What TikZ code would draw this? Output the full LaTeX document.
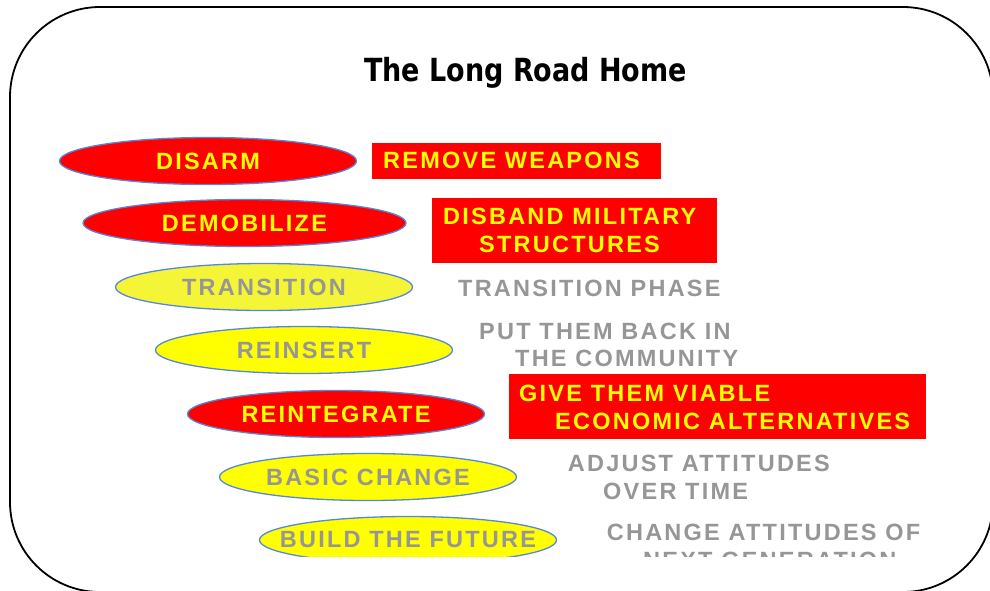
\documentclass[tikz,border=0pt]{standalone}
\usepackage{fontspec}
\setmainfont{Liberation Sans}
\newfontfamily\titlefont{DejaVu Sans}
\newfontfamily\bodyfont[LetterSpace=9.5]{Liberation Sans}
\usetikzlibrary{shapes.geometric}
\definecolor{pptred}{RGB}{255,0,0}
\definecolor{pptyellow}{RGB}{255,255,0}
\definecolor{paleyellow}{RGB}{245,245,55}
\definecolor{txtgray}{RGB}{150,150,150}
\definecolor{ovalblue}{RGB}{85,135,225}
\tikzset{
  oval/.style={ellipse, draw=ovalblue, line width=1.3pt, inner sep=0pt,
    minimum width=297pt, minimum height=47pt},
  redoval/.style={oval, fill=pptred},
  yeloval/.style={oval, fill=pptyellow},
  bodytxt/.style={inner sep=0pt, font=\bodyfont\bfseries\fontsize{23.5}{28}\selectfont},
  ovaltxt/.style={bodytxt, anchor=center},
  lbl/.style={bodytxt, anchor=west, text=txtgray},
  ylbl/.style={bodytxt, anchor=west, text=pptyellow},
  redbox/.style={rectangle, fill=pptred, inner sep=0pt, anchor=north west},
  frame/.style={draw=black, line width=1.8pt, rounded corners=90pt}
}
\begin{document}
\begin{tikzpicture}[x=1pt,y=-1pt]
\useasboundingbox (0,0) rectangle (990,590);
\clip (0,0) rectangle (990,590);
\draw[frame] (10,7) rectangle (993,592);

\node[font=\titlefont\bfseries\fontsize{27}{30}\selectfont, anchor=base, inner sep=0pt]
  (title) at (525.5,81.7) {\scalebox{1}[1.18]{The Long Road Home}};

\begin{scope}
\clip (0,0) rectangle (990,556);
% ovals
\node[redoval] (o1) at (208,161) {};
\node[ovaltxt, text=pptyellow] (t1) at (o1.center) {DISARM};
\node[redoval, minimum width=323pt] (o2) at (244.5,223) {};
\node[ovaltxt, text=pptyellow] (t2) at (o2.center) {DEMOBILIZE};
\node[yeloval, fill=paleyellow] (o3) at (264,287) {};
\node[ovaltxt, text=txtgray] (t3) at (o3.center) {TRANSITION};
\node[yeloval] (o4) at (304,350) {};
\node[ovaltxt, text=txtgray] (t4) at (o4.center) {REINSERT};
\node[redoval] (o5) at (336,414) {};
\node[ovaltxt, text=pptyellow] (t5) at (o5.center) {REINTEGRATE};
\node[yeloval] (o6) at (368,477) {};
\node[ovaltxt, text=txtgray] (t6) at (o6.center) {BASIC CHANGE};
\node[yeloval] (o7) at (408,540) {};
\node[ovaltxt, text=txtgray] (t7) at (o7.center) {BUILD THE FUTURE};

% right column
\node[redbox, minimum width=289.3pt, minimum height=36pt] (b1) at (371.7,142.3) {};
\node[ylbl] (r1) at (383,160.3) {REMOVE WEAPONS};

\node[redbox, minimum width=285pt, minimum height=64.7pt] (b2) at (431.7,198) {};
\node[ylbl] (r2a) at (443,216.8) {DISBAND MILITARY};
\node[ylbl] (r2b) at (479,244.3) {STRUCTURES};

\node[lbl] (r3) at (458,288) {TRANSITION PHASE};

\node[lbl] (r4a) at (479,331) {PUT THEM BACK IN};
\node[lbl] (r4b) at (515,358.3) {THE COMMUNITY};

\node[redbox, minimum width=417pt, minimum height=64.7pt] (b5) at (509,374) {};
\node[ylbl] (r5a) at (519,393.8) {GIVE THEM VIABLE};
\node[ylbl] (r5b) at (555,421.5) {ECONOMIC ALTERNATIVES};

\node[lbl] (r6a) at (567.7,463.8) {ADJUST ATTITUDES};
\node[lbl] (r6b) at (603,491.5) {OVER TIME};

\node[lbl] (r7a) at (606.7,532.3) {CHANGE ATTITUDES OF};
\node[lbl] (r7b) at (643,560) {NEXT GENERATION};
\end{scope}
\end{tikzpicture}
\end{document}
